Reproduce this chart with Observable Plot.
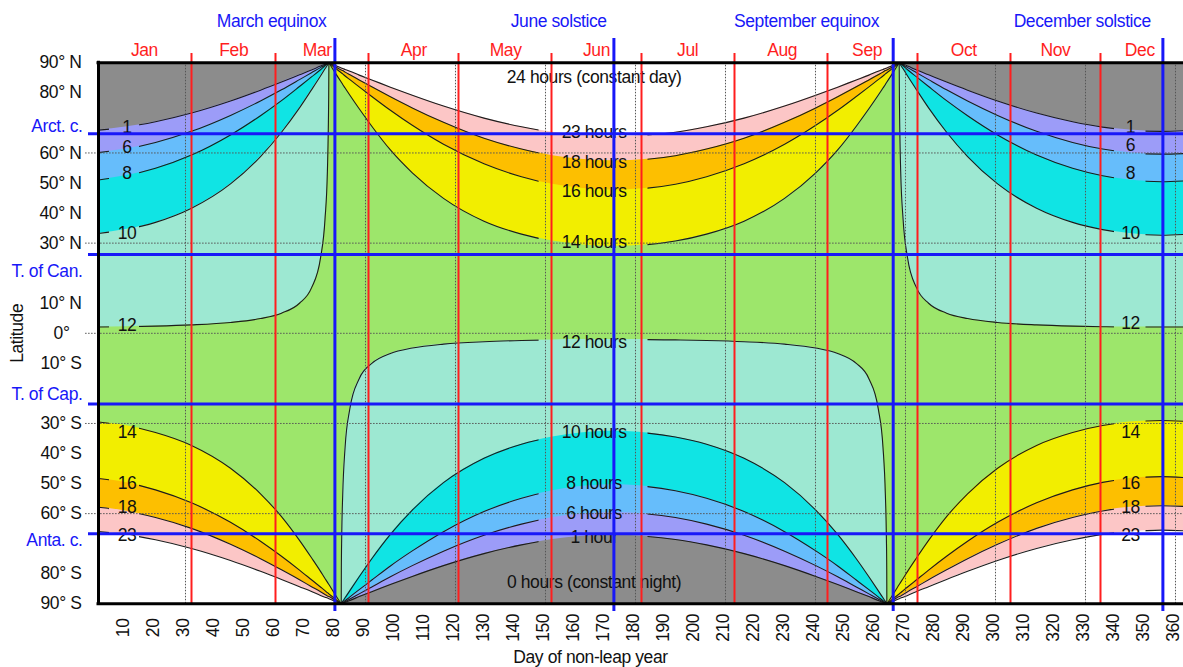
<!DOCTYPE html>
<html><head><meta charset="utf-8">
<script src="https://cdn.jsdelivr.net/npm/d3@7"></script>
<script src="https://cdn.jsdelivr.net/npm/@observablehq/plot@0.6"></script>
<style>
html,body{margin:0;padding:0;background:#fff;overflow:hidden}
#chart svg text{letter-spacing:-0.4px}
</style></head><body><div id="chart"></div>
<script>
// ---------- day-of-year sample points read along the x axis ----------
const winterDaysJanMar = [1,10,20,32,45,55,62,68,72,75,76.5,77.3,77.8];
const noonDaysJanMar   = [1,10,20,32,45,55,62,68,72,75,76.5,77.3,77.6,77.73,77.8];
const southDaysJanMar  = [1,10,20,32,45,55,62,68,72,75,76.5,77.3,77.8,79.8,81.9];
const summerNorthDays  = [77.8,79.8,81.9,82.4,83.2,84.8,87.9,92.1,98.3,105.6,116,129.5,142,152.4,161.7,172.85,184,193.3,203.7,216.2,229.7,240.1,247.4,253.6,257.8,260.9,262.5,263.3,263.8,265.9,267.9];
const summerSouthDays  = [81.9,82.4,83.2,84.8,87.9,92.1,98.3,105.6,116,129.5,142,152.4,161.7,172.85,184,193.3,203.7,216.2,229.7,240.1,247.4,253.6,257.8,260.9,262.5,263.3,263.8];
const summerNoonDays   = [81.91,81.95,82.07,82.4,83.2,84.8,87.9,92.1,98.3,105.6,116,129.5,142,152.4,161.7,172.85,184,193.3,203.7,216.2,229.7,240.1,247.4,253.6,257.8,260.9,262.5,263.3,263.63,263.75,263.79];
const winterDaysSepDec = [267.9,268.4,269.2,270.7,273.7,277.7,283.7,290.7,300.7,313.7,325.7,335.7,344.7,355.4,363];
const noonDaysSepDec   = [267.9,267.97,268.1,268.4,269.2,270.7,273.7,277.7,283.7,290.7,300.7,313.7,325.7,335.7,344.7,355.4,363];
const southDaysSepDec  = [263.8,265.9,267.9,268.4,269.2,270.7,273.7,277.7,283.7,290.7,300.7,313.7,325.7,335.7,344.7,355.4,363];

// ---------- contour latitudes (degrees) ----------
const north1JanMar  = [67.6,68.6,70.4,73.3,77.3,80.9,83.6,86.0,87.6,88.9,89.5,89.8,90];
const north6JanMar  = [60.1,61.3,63.5,67.2,72.5,77.3,81.0,84.4,86.7,88.4,89.3,89.7,90];
const north8JanMar  = [51.0,52.4,54.9,59.3,66.0,72.4,77.4,82.1,85.3,87.7,89.0,89.6,90];
const north10JanMar = [33.2,34.5,36.9,41.6,49.7,58.8,66.9,75.0,81.0,85.6,88.0,89.2,90];
const north12JanMar = [2.1,2.2,2.4,2.8,3.6,4.9,6.7,10.0,15.1,25.0,37.9,53.9,67.8,78.6,90];
const south23JanMar = [-66.0,-66.9,-68.7,-71.6,-75.6,-79.2,-81.9,-84.3,-85.9,-87.2,-87.8,-88.1,-88.3,-89.2,-90];
const south18JanMar = [-57.9,-59.1,-61.3,-64.9,-70.2,-75.0,-78.7,-82.0,-84.3,-86.0,-86.9,-87.4,-87.6,-88.8,-90];
const south16JanMar = [-48.3,-49.6,-52.1,-56.4,-62.9,-69.2,-74.2,-78.8,-82.0,-84.4,-85.6,-86.3,-86.7,-88.3,-90];
const south14JanMar = [-29.5,-30.7,-33.0,-37.3,-44.9,-53.4,-61.0,-68.9,-74.7,-79.2,-81.6,-82.8,-83.6,-86.8,-90];
const north23Summer = [90,89.2,88.3,88.1,87.8,87.2,85.9,84.3,81.9,79.2,75.6,71.6,68.7,66.9,66.0,65.5,66.0,66.9,68.7,71.6,75.6,79.2,81.9,84.3,85.9,87.2,87.8,88.1,88.3,89.2,90];
const north18Summer = [90,88.8,87.6,87.4,86.9,86.0,84.3,82.0,78.7,75.0,70.2,64.9,61.3,59.1,57.9,57.4,57.9,59.1,61.3,64.9,70.2,75.0,78.7,82.0,84.3,86.0,86.9,87.4,87.6,88.8,90];
const north16Summer = [90,88.3,86.7,86.3,85.6,84.4,82.0,78.8,74.2,69.2,62.9,56.4,52.1,49.6,48.3,47.7,48.3,49.6,52.1,56.4,62.9,69.2,74.2,78.8,82.0,84.4,85.6,86.3,86.7,88.3,90];
const north14Summer = [90,86.8,83.6,82.8,81.6,79.2,74.7,68.9,61.0,53.4,44.9,37.3,33.0,30.7,29.5,29.0,29.5,30.7,33.0,37.3,44.9,53.4,61.0,68.9,74.7,79.2,81.6,82.8,83.6,86.8,90];
const south1Summer  = [-90,-89.8,-89.5,-88.9,-87.6,-86.0,-83.6,-80.9,-77.3,-73.3,-70.4,-68.6,-67.6,-67.2,-67.6,-68.6,-70.4,-73.3,-77.3,-80.9,-83.6,-86.0,-87.6,-88.9,-89.5,-89.8,-90];
const south6Summer  = [-90,-89.7,-89.3,-88.4,-86.7,-84.4,-81.0,-77.3,-72.5,-67.2,-63.5,-61.3,-60.1,-59.6,-60.1,-61.3,-63.5,-67.2,-72.5,-77.3,-81.0,-84.4,-86.7,-88.4,-89.3,-89.7,-90];
const south8Summer  = [-90,-89.6,-89.0,-87.7,-85.3,-82.1,-77.4,-72.4,-66.0,-59.3,-54.9,-52.4,-51.0,-50.4,-51.0,-52.4,-54.9,-59.3,-66.0,-72.4,-77.4,-82.1,-85.3,-87.7,-89.0,-89.6,-90];
const south10Summer = [-90,-89.2,-88.0,-85.6,-81.0,-75.0,-66.9,-58.8,-49.7,-41.6,-36.9,-34.5,-33.2,-32.6,-33.2,-34.5,-36.9,-41.6,-49.7,-58.8,-66.9,-75.0,-81.0,-85.6,-88.0,-89.2,-90];
const south12Summer = [-90,-78.6,-67.8,-53.9,-37.9,-25.0,-15.1,-10.0,-6.7,-4.9,-3.6,-2.8,-2.4,-2.2,-2.1,-2.1,-2.1,-2.2,-2.4,-2.8,-3.6,-4.9,-6.7,-10.0,-15.1,-25.0,-37.9,-53.9,-67.8,-78.6,-90];
const north1SepDec  = [90,89.8,89.5,88.9,87.6,86.0,83.6,80.9,77.3,73.3,70.4,68.6,67.6,67.2,67.4];
const north6SepDec  = [90,89.7,89.3,88.4,86.7,84.4,81.0,77.3,72.5,67.2,63.5,61.3,60.1,59.6,59.8];
const north8SepDec  = [90,89.6,89.0,87.7,85.3,82.1,77.4,72.4,66.0,59.3,54.9,52.4,51.0,50.4,50.7];
const north10SepDec = [90,89.2,88.0,85.6,81.0,75.0,66.9,58.8,49.7,41.6,36.9,34.5,33.2,32.6,32.9];
const north12SepDec = [90,78.6,67.8,53.9,37.9,25.0,15.1,10.0,6.7,4.9,3.6,2.8,2.4,2.2,2.1,2.1,2.1];
const south23SepDec = [-90,-89.2,-88.3,-88.1,-87.8,-87.2,-85.9,-84.3,-81.9,-79.2,-75.6,-71.6,-68.7,-66.9,-66.0,-65.5,-65.7];
const south18SepDec = [-90,-88.8,-87.6,-87.4,-86.9,-86.0,-84.3,-82.0,-78.7,-75.0,-70.2,-64.9,-61.3,-59.1,-57.9,-57.4,-57.6];
const south16SepDec = [-90,-88.3,-86.7,-86.3,-85.6,-84.4,-82.0,-78.8,-74.2,-69.2,-62.9,-56.4,-52.1,-49.6,-48.3,-47.7,-48.0];
const south14SepDec = [-90,-86.8,-83.6,-82.8,-81.6,-79.2,-74.7,-68.9,-61.0,-53.4,-44.9,-37.3,-33.0,-30.7,-29.5,-29.0,-29.3];

// ---------- reference lines & labels ----------
const monthStarts = [32,60,91,121,152,182,213,244,274,305,335];
const monthNames  = ["Jan","Feb","Mar","Apr","May","Jun","Jul","Aug","Sep","Oct","Nov","Dec"];
const monthLabelDays = [16.3,46.1,73.9,106.1,136.7,167,197.4,228.9,257.2,289.4,320,348.1];
const eventNames = ["March equinox","June solstice","September equinox","December solstice"];
const eventDays  = [79.8,172.8,265.9,355.8];
const eventLabelDays = [58.7,154.4,237.0,328.9];
const circleLats = [66.4,26.2,-23.5,-66.7];
const circleNames = ["Arct. c.","T. of Can.","T. of Cap.","Anta. c."];
const circleLabelLats = [68.8,20.7,-20.4,-68.9];
const latTicks  = [90,80,60,50,40,30,10,-10,-30,-40,-50,-60,-80,-90];
const latLabels = ["90° N","80° N","60° N","50° N","40° N","30° N","10° N","10° S","30° S","40° S","50° S","60° S","80° S","90° S"];
const dayTicks = d3.range(10, 361, 10);
const gridDays = d3.range(30, 361, 30);
const gridLats = [60,30,0,-30,-60];
const edgeLabels = ["1","6","8","10","12","14","16","18","23"];
const leftLabelLats  = [68.6,61.9,53.2,33.2,2.6,-33.0,-50.1,-57.9,-67.3];
const rightLabelLats = [68.6,62.5,53.3,33.1,3.2,-32.9,-49.9,-57.9,-67.3];
const midLabels = ["24 hours (constant day)","23 hours","18 hours","16 hours","14 hours","12 hours","10 hours","8 hours","6 hours","1 hour","0 hours (constant night)"];
const midLabelLats = [85.0,66.9,56.9,47.3,30.3,-3.0,-32.9,-50.1,-59.9,-67.8,-82.8];
const labelGapsKeep = [[-20,4.5],[14.5,147.7],[184,339.5],[350,420]];

// ---------- styles ----------
const C = {gray:"#8c8c8c", blue:"#1818f8", red:"#ff1e1e", grid:"#555"};
const bandColors = {1:"#9c9cf8", 6:"#66bdfb", 8:"#10e4e4", 10:"#9de8d2", 12:"#9de66b", 14:"#f2ee00", 16:"#fdbf00", 18:"#fcc6c6", 23:"#ffffff"};
const FS = 17.5;

const contours = [
  {h:1,  kind:"short", left:[winterDaysJanMar,north1JanMar],  summer:[summerSouthDays,south1Summer],  right:[winterDaysSepDec,north1SepDec]},
  {h:6,  kind:"short", left:[winterDaysJanMar,north6JanMar],  summer:[summerSouthDays,south6Summer],  right:[winterDaysSepDec,north6SepDec]},
  {h:8,  kind:"short", left:[winterDaysJanMar,north8JanMar],  summer:[summerSouthDays,south8Summer],  right:[winterDaysSepDec,north8SepDec]},
  {h:10, kind:"short", left:[winterDaysJanMar,north10JanMar], summer:[summerSouthDays,south10Summer], right:[winterDaysSepDec,north10SepDec]},
  {h:12, kind:"short", left:[noonDaysJanMar,north12JanMar],   summer:[summerNoonDays,south12Summer],  right:[noonDaysSepDec,north12SepDec]},
  {h:14, kind:"long",  left:[southDaysJanMar,south14JanMar],  summer:[summerNorthDays,north14Summer], right:[southDaysSepDec,south14SepDec]},
  {h:16, kind:"long",  left:[southDaysJanMar,south16JanMar],  summer:[summerNorthDays,north16Summer], right:[southDaysSepDec,south16SepDec]},
  {h:18, kind:"long",  left:[southDaysJanMar,south18JanMar],  summer:[summerNorthDays,north18Summer], right:[southDaysSepDec,south18SepDec]},
  {h:23, kind:"long",  left:[southDaysJanMar,south23JanMar],  summer:[summerNorthDays,north23Summer], right:[southDaysSepDec,south23SepDec]}
];

function regionRows(c) {
  const rows = [];
  const [ld, lv] = c.left, [sd, sv] = c.summer, [rd, rv] = c.right;
  const short = c.kind === "short";
  ld.forEach((d, i) => rows.push({d, lo: -90, hi: lv[i], piece: short ? "all" : "a"}));
  sd.forEach((d, i) => rows.push({d, lo: sv[i], hi: 90, piece: short ? "all" : "b"}));
  rd.forEach((d, i) => rows.push({d, lo: -90, hi: rv[i], piece: short ? "all" : "c"}));
  return rows;
}
const lineRows = contours.flatMap(c => ["left","summer","right"].flatMap(k =>
  c[k][0].map((d, i) => ({d, lat: c[k][1][i], key: c.h + k}))));

const txt = {fontSize: FS, fontFamily: "'Liberation Sans', Arial, sans-serif", lineAnchor: "middle"};

const plot = Plot.plot({
  width: 1183, height: 667,
  marginTop: 62.3, marginBottom: 63.7, marginLeft: 98, marginRight: 0,
  x: {domain: [1, 362.67], axis: null},
  y: {domain: [-90, 90], axis: null},
  style: {fontFamily: "'Liberation Sans', Arial, sans-serif", fontSize: "17.5px", background: "#fff"},
  marks: [
    Plot.frame({fill: C.gray, stroke: null}),
    ...contours.map(c => Plot.areaY(regionRows(c), {x: "d", y1: "lo", y2: "hi", z: "piece", fill: bandColors[c.h], curve: "monotone-x"})),
    Plot.line(lineRows, {x: "d", y: "lat", z: "key", stroke: "#1c1c1c", strokeWidth: 1.1, curve: "monotone-x"}),
    Plot.ruleY(gridLats, {x1: -3.3, x2: 362.67, stroke: C.grid, strokeDasharray: "1.5,1.5", strokeWidth: 1}),
    Plot.ruleX(gridDays, {y1: -90, y2: 90, stroke: C.grid, strokeDasharray: "1.5,1.5", strokeWidth: 1}),
    Plot.text(edgeLabels, {x: () => 10.5, y: (d, i) => leftLabelLats[i], text: d => d, ...txt, fill: "#111"}),
    Plot.text(edgeLabels, {x: () => 345, y: (d, i) => rightLabelLats[i], text: d => d, ...txt, fill: "#111"}),
    Plot.text(midLabels, {x: () => 166.2, y: (d, i) => midLabelLats[i], text: d => d, ...txt, fill: "#111"}),
    Plot.ruleX(monthStarts, {y1: -90, y2: 93.1, stroke: C.red, strokeWidth: 2}),
    Plot.ruleY(circleLats, {x1: -2.33, x2: 362.67, stroke: C.blue, strokeWidth: 3}),
    Plot.ruleX(eventDays, {y1: -92.6, y2: 98.1, stroke: C.blue, strokeWidth: 3}),
    Plot.ruleY([90, -90], {x1: 1, x2: 362.67, stroke: "#000", strokeWidth: 3, strokeLinecap: "square"}),
    Plot.ruleX([1], {y1: -90, y2: 90, stroke: "#000", strokeWidth: 3, strokeLinecap: "square"}),
    Plot.text(monthNames, {x: (d, i) => monthLabelDays[i], text: d => d, frameAnchor: "top", dy: -12.3, fill: C.red, ...txt}),
    Plot.text(eventNames, {x: (d, i) => eventLabelDays[i], text: d => d, frameAnchor: "top", dy: -41.6, fill: C.blue, ...txt}),
    Plot.text(latLabels, {y: (d, i) => latTicks[i], text: d => d, frameAnchor: "left", textAnchor: "end", dx: -17, fill: "#111", ...txt}),
    Plot.text(["0°"], {y: () => 0, text: d => d, frameAnchor: "left", textAnchor: "end", dx: -29, fill: "#111", ...txt}),
    Plot.text(circleNames, {y: (d, i) => circleLabelLats[i], text: d => d, frameAnchor: "left", textAnchor: "end", dx: -16, fill: C.blue, ...txt}),
    Plot.text(["Latitude"], {y: () => 0, text: d => d, frameAnchor: "left", textAnchor: "middle", dx: -81, rotate: -90, fill: "#111", ...txt}),
    Plot.text(dayTicks, {x: d => d, text: d => String(d), frameAnchor: "bottom", textAnchor: "middle", dx: -2, dy: 24, rotate: -90, fill: "#111", ...txt}),
    Plot.text(["Day of non-leap year"], {x: () => 165, text: d => d, frameAnchor: "bottom", textAnchor: "middle", dy: 53.5, fill: "#111", ...txt})
  ]
});

// break contour lines where the labels sit (positions from Plot's x scale)
(function () {
  const sx = plot.scale("x");
  let px = (typeof sx.apply === "function") ? sx.apply : null;
  if (!px || !isFinite(px(10))) px = d3.scaleLinear(sx.domain, sx.range);
  const g = plot.querySelector('g[aria-label="line"]');
  const ns = "http://www.w3.org/2000/svg";
  const defs = document.createElementNS(ns, "defs");
  const cp = document.createElementNS(ns, "clipPath");
  cp.setAttribute("id", "labelgaps");
  labelGapsKeep.forEach(([a, b]) => {
    const r = document.createElementNS(ns, "rect");
    r.setAttribute("x", px(a)); r.setAttribute("y", -100);
    r.setAttribute("width", px(b) - px(a)); r.setAttribute("height", 900);
    cp.appendChild(r);
  });
  defs.appendChild(cp);
  plot.appendChild(defs);
  if (g) g.setAttribute("clip-path", "url(#labelgaps)");
})();

document.getElementById("chart").appendChild(plot);
</script></body></html>
